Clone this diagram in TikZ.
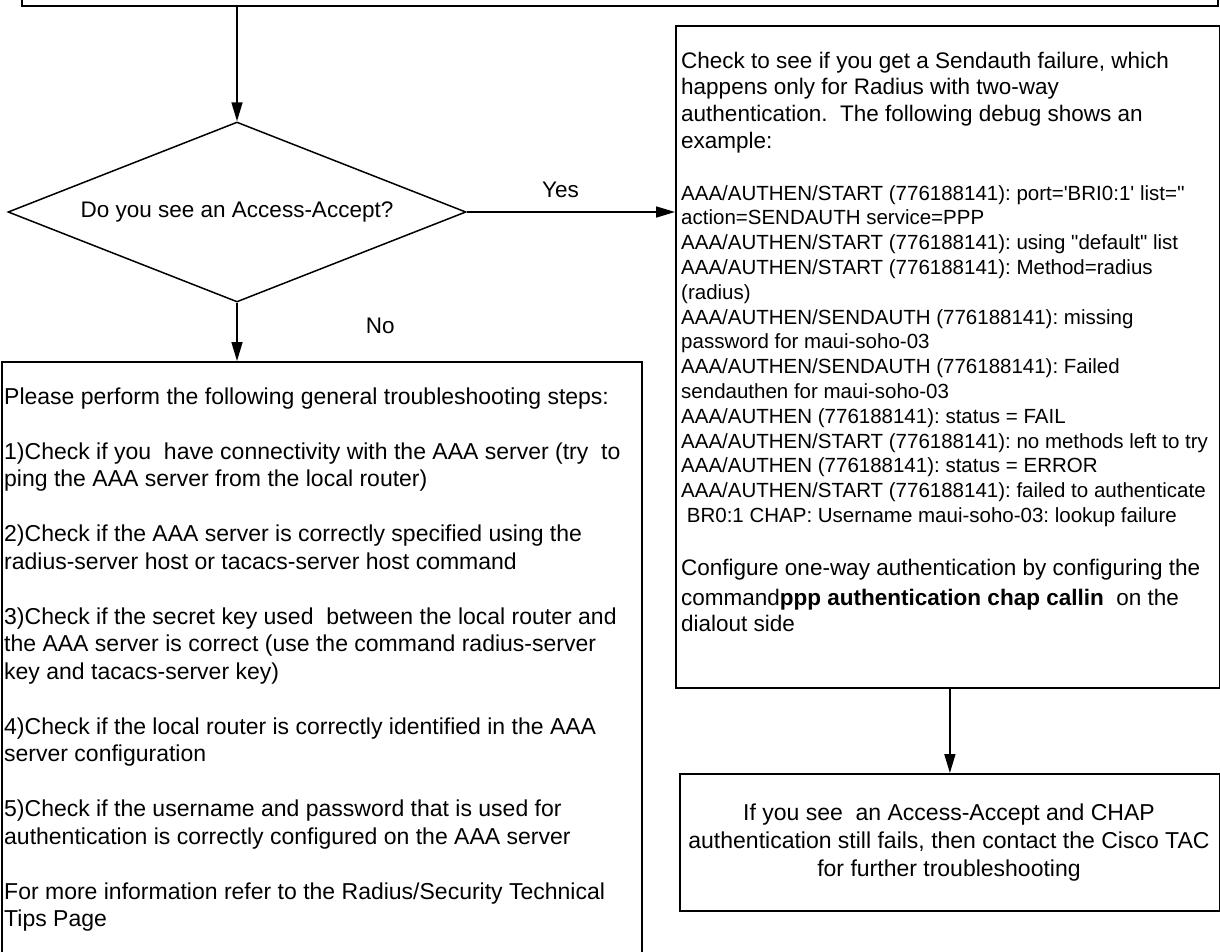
\documentclass[tikz,border=0pt]{standalone}
\usepackage{fontspec}
\setmainfont{Liberation Sans}
\usetikzlibrary{shapes.geometric,arrows.meta}
\newcommand\rigidsp{\frenchspacing\spaceskip=0.278em\xspaceskip=0.278em\relax}
\newcommand\mkline[3]{{\fontsize{#1}{#2}\selectfont\rigidsp #3\par}}
\begin{document}
\begin{tikzpicture}[x=1pt,y=-1pt,
  box/.style={draw=black, line width=1.8pt, rectangle, inner sep=0pt, anchor=north west},
  arr/.style={line width=1.6pt, -{Triangle[length=19pt,width=11pt]}},
  txt/.style={inner sep=0pt, anchor=base west, text width=#1, align=left},
  lbl/.style={inner sep=0pt, font=\fontsize{22.5}{27}\selectfont},
  decision/.style={diamond, draw=black, line width=1.5pt, inner sep=0pt, aspect=2.5,
    minimum width=458pt, minimum height=180pt, font=\fontsize{22.5}{27}\selectfont}]
\useasboundingbox (0,0) rectangle (1220,951);
\clip (0,0) rectangle (1220,951);

% boxes
\node[box, minimum width=1196pt, minimum height=45pt] (top) at (21,-40) {};
\node[decision] (q) at (237,212) {Do you see an Access-Accept?};
\node[box, minimum width=544pt, minimum height=662pt] (chk) at (675,25) {};
\node[box, minimum width=640pt, minimum height=640pt] (gen) at (1,361) {};
\node[box, minimum width=540pt, minimum height=137pt] (tac) at (679,773) {};

% texts
\node[txt=600pt, font=\fontsize{22.5}{26.7}\selectfont] (chktext) at (681,68) {%
\mkline{22.5}{26.7}{Check to see if you get a Sendauth failure, which}%
\mkline{22.5}{26.7}{happens only for Radius with two-way}%
\mkline{22.5}{26.7}{authentication.\ \ The following debug shows an}%
\mkline{22.5}{26.7}{example:}%
\mkline{20.5}{52}{AAA/AUTHEN/START (776188141): port=\textquotesingle BRI0:1\textquotesingle{} list=\textquotesingle\textquotesingle}%
\mkline{20.5}{24.8}{action=SENDAUTH service=PPP}%
\mkline{20.5}{24.8}{AAA/AUTHEN/START (776188141): using \textquotedbl default\textquotedbl{} list}%
\mkline{20.5}{24.8}{AAA/AUTHEN/START (776188141): Method=radius}%
\mkline{20.5}{24.8}{(radius)}%
\mkline{20.5}{24.8}{AAA/AUTHEN/SENDAUTH (776188141): missing}%
\mkline{20.5}{24.8}{password for maui-soho-03}%
\mkline{20.5}{24.8}{AAA/AUTHEN/SENDAUTH (776188141): Failed}%
\mkline{20.5}{24.8}{sendauthen for maui-soho-03}%
\mkline{20.5}{24.8}{AAA/AUTHEN (776188141): status = FAIL}%
\mkline{20.5}{24.8}{AAA/AUTHEN/START (776188141): no methods left to try}%
\mkline{20.5}{24.8}{AAA/AUTHEN (776188141): status = ERROR}%
\mkline{20.5}{24.8}{AAA/AUTHEN/START (776188141): failed to authenticate}%
\mkline{20.5}{24.5}{\ BR0:1 CHAP: Username maui-soho-03: lookup failure}%
\mkline{22.5}{53}{Configure one-way authentication by configuring the}%
\mkline{22.5}{30}{command\textbf{ppp authentication chap callin}\ \ on the}%
\mkline{22.5}{26}{dialout side}%
};

\node[txt=700pt, font=\fontsize{23}{27.5}\selectfont] (gentext) at (4,404) {\rigidsp
Please perform the following general troubleshooting steps:\\[27.5pt]
1)Check if you\ \ have connectivity with the AAA server (try\ \ to\\
ping the AAA server from the local router)\\[27.5pt]
2)Check if the AAA server is correctly specified using the\\
radius-server host or tacacs-server host command\\[27.5pt]
3)Check if the secret key used\ \ between the local router and\\
the AAA server is correct (use the command radius-server\\
key and tacacs-server key)\\[27.5pt]
4)Check if the local router is correctly identified in the AAA\\
server configuration\\[27.5pt]
5)Check if the username and password that is used for\\
authentication is correctly configured on the AAA server\\[27.5pt]
For more information refer to the Radius/Security Technical\\
Tips Page};

\node[inner sep=0pt, anchor=base, text width=540pt, align=center,
  font=\fontsize{23}{28}\selectfont] (tactext) at (949,820) {\rigidsp
If you see\ \ an Access-Accept and CHAP\\
authentication still fails, then contact the Cisco TAC\\
for further troubleshooting};

% connectors
\draw[arr] (top.south -| q.north) -- (q.north);
\draw[arr] (q.east) -- (q.east -| chk.west)
  node[lbl, pos=0.45, above=13pt] (yes) {Yes};
\draw[arr] (q.south) -- (q.south |- gen.north)
  node[lbl, pos=0.4, right=128pt] (no) {No};
\draw[arr] (tac.north |- chk.south) -- (tac.north);
\end{tikzpicture}
\end{document}
